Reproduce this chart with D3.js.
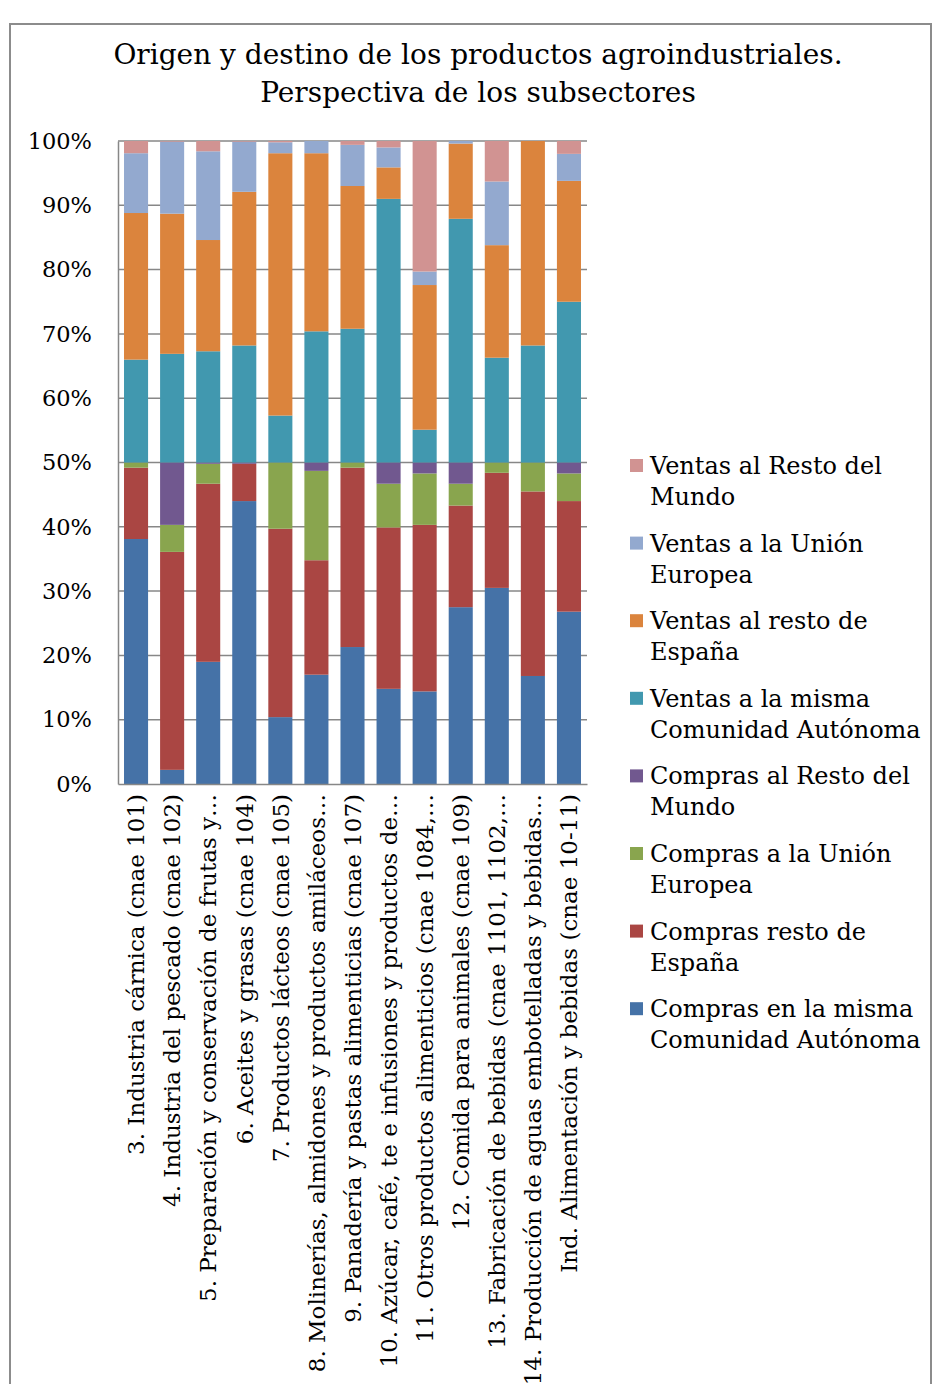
<!DOCTYPE html>
<html><head><meta charset="utf-8">
<script src="https://cdn.jsdelivr.net/npm/d3@7"></script>
<style>
html,body{margin:0;padding:0;background:#fff;}
svg{display:block;font-family:"DejaVu Serif",serif;}
</style></head>
<body>
<svg id="chart" width="933" height="1384"></svg>
<script>
const categories = [
  "3. Industria cárnica (cnae 101)",
  "4. Industria del pescado (cnae 102)",
  "5. Preparación y conservación de frutas y…",
  "6. Aceites y grasas (cnae 104)",
  "7. Productos lácteos (cnae 105)",
  "8. Molinerías, almidones y productos amiláceos…",
  "9. Panadería y pastas alimenticias (cnae 107)",
  "10. Azúcar, café, te e infusiones y productos de…",
  "11. Otros productos alimenticios (cnae 1084,…",
  "12. Comida para animales (cnae 109)",
  "13. Fabricación de bebidas (cnae 1101, 1102,…",
  "14. Producción de aguas embotelladas y bebidas…",
  "Ind. Alimentación y bebidas (cnae 10-11)"
];
const seriesNames = [
  "Compras en la misma Comunidad Autónoma",
  "Compras resto de España",
  "Compras a la Unión Europea",
  "Compras al Resto del Mundo",
  "Ventas a la misma Comunidad Autónoma",
  "Ventas al resto de España",
  "Ventas a la Unión Europea",
  "Ventas al Resto del Mundo"
];
const comprasMismaCA   = [38.1, 2.2, 19.0, 44.0, 10.4, 17.0, 21.3, 14.8, 14.4, 27.5, 30.5, 16.8, 26.8];
const comprasRestoEsp  = [11.1, 33.9, 27.7, 5.8, 29.3, 17.8, 27.9, 25.1, 25.9, 15.8, 17.9, 28.7, 17.2];
const comprasUE        = [0.8, 4.2, 3.1, 0.0, 10.3, 13.9, 0.8, 6.8, 8.0, 3.4, 1.6, 4.5, 4.3];
const comprasMundo     = [0.0, 9.7, 0.2, 0.2, 0.0, 1.3, 0.0, 3.3, 1.7, 3.3, 0.0, 0.0, 1.7];
const ventasMismaCA    = [16.0, 16.9, 17.3, 18.2, 7.3, 20.4, 20.8, 41.0, 5.1, 37.9, 16.3, 18.2, 25.0];
const ventasRestoEsp   = [22.8, 21.8, 17.3, 23.9, 40.8, 27.7, 22.2, 4.9, 22.5, 11.7, 17.5, 31.8, 18.8];
const ventasUE         = [9.3, 11.2, 13.8, 7.8, 1.7, 1.9, 6.4, 3.1, 2.1, 0.4, 9.9, 0.0, 4.2];
const ventasMundo      = [1.9, 0.1, 1.6, 0.1, 0.2, 0.0, 0.6, 1.0, 20.3, 0.0, 6.3, 0.0, 2.0];
const yTicks = [0, 0.1, 0.2, 0.3, 0.4, 0.5, 0.6, 0.7, 0.8, 0.9, 1.0];
const title = ["Origen y destino de los productos agroindustriales.", "Perspectiva de los subsectores"];

const seriesValues = [comprasMismaCA, comprasRestoEsp, comprasUE, comprasMundo,
                      ventasMismaCA, ventasRestoEsp, ventasUE, ventasMundo];
const colors = ["#4572A7", "#AA4643", "#89A54E", "#71588F", "#4198AF", "#DB843D", "#93A9CF", "#D19392"];

const rows = categories.map((c, i) => {
  const r = {cat: c};
  seriesNames.forEach((s, j) => r[s] = seriesValues[j][i]);
  return r;
});
const stacked = d3.stack().keys(seriesNames).offset(d3.stackOffsetExpand)(rows);

const svg = d3.select("#chart");
// outer frame
svg.append("rect").attr("x", 10).attr("y", 24).attr("width", 921).attr("height", 1400)
  .attr("fill", "none").attr("stroke", "#8c8c8c").attr("stroke-width", 2);

// title
svg.append("g").selectAll("text").data(title).join("text")
  .attr("x", 478).attr("y", (d, i) => 64 + i * 38)
  .attr("text-anchor", "middle").attr("font-size", 28).attr("fill", "#000")
  .text(d => d);

const plot = {left: 118, right: 587, top: 141, bottom: 784};
const x = d3.scaleBand().domain(categories).range([plot.left, plot.right])
  .paddingInner(0.333).paddingOuter(0.1667);
const y = d3.scaleLinear().domain([0, 1]).range([plot.bottom, plot.top]);

// gridlines
svg.append("g").selectAll("line").data(yTicks.slice(1)).join("line")
  .attr("x1", plot.left).attr("x2", plot.right)
  .attr("y1", d => y(d)).attr("y2", d => y(d))
  .attr("stroke", "#878787").attr("stroke-width", 1.5);

// y axis labels
const yAxis = d3.axisLeft(y).tickValues(yTicks).tickFormat(d3.format(".0%")).tickSize(0).tickPadding(26);
const yg = svg.append("g").attr("transform", `translate(${plot.left},0)`).call(yAxis);
yg.select(".domain").attr("stroke", "#878787").attr("stroke-width", 1.5);
yg.selectAll("text").attr("font-size", 22.5).attr("font-family", "DejaVu Serif").attr("fill", "#000");

// bars
svg.append("g").selectAll("g").data(stacked).join("g")
  .attr("fill", (d, i) => colors[i])
  .selectAll("rect").data(d => d).join("rect")
  .attr("x", d => x(d.data.cat))
  .attr("width", x.bandwidth())
  .attr("y", d => y(d[1]))
  .attr("height", d => Math.max(0, y(d[0]) - y(d[1])));

// x axis
const xAxis = d3.axisBottom(x).tickSize(0).tickPadding(0);
const xg = svg.append("g").attr("transform", `translate(0,${plot.bottom})`).call(xAxis);
xg.select(".domain").attr("stroke", "#878787").attr("stroke-width", 1.5);
xg.selectAll("text")
  .attr("font-size", 23).attr("font-family", "DejaVu Serif").attr("fill", "#000")
  .attr("text-anchor", "end")
  .attr("transform", "translate(0,10) rotate(-90)")
  .attr("x", 0).attr("y", 0).attr("dy", "0.36em");

// legend
const legendOrder = seriesNames.map((s, i) => ({name: s, color: colors[i]})).reverse();
const lg = svg.append("g");
const maxW = 280;
legendOrder.forEach((d, i) => {
  const yy = 466 + i * 77.6;
  lg.append("rect").attr("x", 630).attr("y", yy - 7).attr("width", 13).attr("height", 13).attr("fill", d.color);
  const t = lg.append("text").attr("x", 650).attr("y", yy + 8).attr("font-size", 24).attr("fill", "#000");
  const words = d.name.split(" ");
  let line = [];
  let ts = t.append("tspan").attr("x", 650).attr("dy", 0);
  words.forEach(w => {
    line.push(w);
    ts.text(line.join(" "));
    if (ts.node().getComputedTextLength() > maxW && line.length > 1) {
      line.pop();
      ts.text(line.join(" "));
      line = [w];
      ts = t.append("tspan").attr("x", 650).attr("dy", 31).text(w);
    }
  });
});
</script>
</body></html>
